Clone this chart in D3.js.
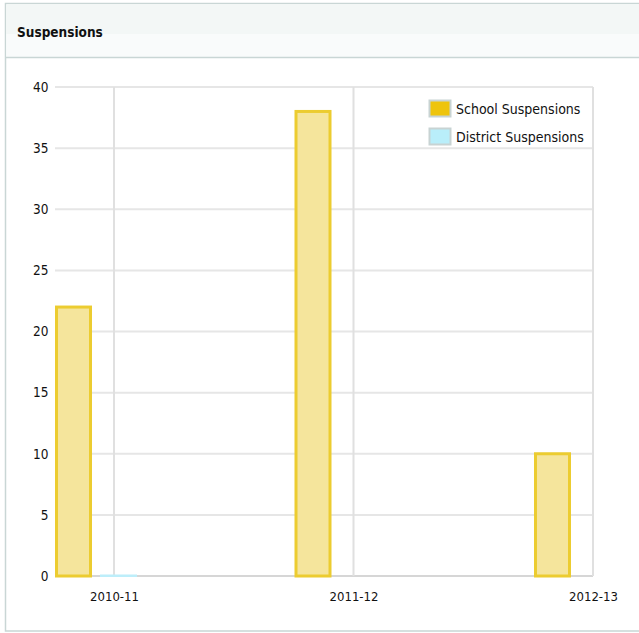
<!DOCTYPE html>
<html>
<head>
<meta charset="utf-8">
<script src="https://cdn.jsdelivr.net/npm/d3@7"></script>
<style>
  html, body { margin: 0; padding: 0; background: #ffffff; }
  svg { display: block; }
  text { font-family: "DejaVu Sans Condensed", "DejaVu Sans", sans-serif; fill: #111; }
</style>
</head>
<body>
<svg id="chart" width="639" height="633"></svg>
<script>
// School years on the x axis
const categories = ["2010-11", "2011-12", "2012-13"];
// Suspension counts per year (null = no data reported)
const schoolSuspensions = [22, 38, 10];
const districtSuspensions = [0, null, null];
// Y axis tick values
const yTicks = [0, 5, 10, 15, 20, 25, 30, 35, 40];
const seriesNames = ["School Suspensions", "District Suspensions"];
const seriesColors = ["#eec40c", "#b9eefa"];

const svg = d3.select("#chart");

// Panel frame and header
const panel = svg.append("g");
panel.append("rect").attr("x", 5.5).attr("y", 3.5).attr("width", 640).attr("height", 627.5)
  .attr("fill", "#ffffff").attr("stroke", "#c9d6d5").attr("stroke-width", 1.5);
panel.append("rect").attr("x", 6.25).attr("y", 4.25).attr("width", 640).attr("height", 30)
  .attr("fill", "#f3f7f6");
panel.append("rect").attr("x", 6.25).attr("y", 34).attr("width", 640).attr("height", 23)
  .attr("fill", "#f9fbfb");
panel.append("line").attr("x1", 5.5).attr("x2", 639).attr("y1", 57.5).attr("y2", 57.5)
  .attr("stroke", "#c9d6d5").attr("stroke-width", 1.5);
panel.append("text").attr("x", 17).attr("y", 37)
  .attr("font-size", 13.5).attr("font-weight", "bold").attr("fill", "#000")
  .text("Suspensions");

// Scales
const plotLeft = 55, plotRight = 593, plotTop = 87, plotBottom = 576;
const y = d3.scaleLinear().domain([0, 40]).range([plotBottom, plotTop]);
const x = d3.scalePoint().domain(categories).range([114, plotRight]).padding(0);

const grid = svg.append("g");
// Horizontal gridlines
grid.selectAll("line.h").data(yTicks).join("line")
  .attr("class", "h")
  .attr("x1", plotLeft).attr("x2", plotRight)
  .attr("y1", d => y(d)).attr("y2", d => y(d))
  .attr("stroke", d => d === 0 ? "#d6d6d6" : "#e6e6e6").attr("stroke-width", 2);
// Vertical gridlines at each category
grid.selectAll("line.v").data(categories).join("line")
  .attr("class", "v")
  .attr("x1", d => x(d)).attr("x2", d => x(d))
  .attr("y1", plotTop).attr("y2", plotBottom)
  .attr("stroke", "#e0e0e0").attr("stroke-width", 2);

// Y axis
const yAxis = d3.axisLeft(y).tickValues(yTicks).tickSize(0).tickPadding(0);
const gy = svg.append("g").attr("transform", `translate(48.5,0)`).call(yAxis);
gy.select(".domain").remove();
gy.selectAll("text").attr("font-size", 13.5).attr("fill", "#111")
  .attr("font-family", "'DejaVu Sans Condensed', 'DejaVu Sans', sans-serif");

// X axis
const xAxis = d3.axisBottom(x).tickSize(0).tickPadding(0);
const gx = svg.append("g").attr("transform", `translate(0,${plotBottom + 16})`).call(xAxis);
gx.select(".domain").remove();
gx.selectAll("text").attr("font-size", 13).attr("fill", "#111")
  .attr("font-family", "'DejaVu Sans Condensed', 'DejaVu Sans', sans-serif");

// Bars: school bars sit left of the category line, district bars just right of it
const barW = 34;
const schoolOffset = -57.5, districtOffset = -12.5;

svg.append("g").selectAll("rect").data(categories.map((c, i) => ({ c, v: schoolSuspensions[i] })).filter(d => d.v != null))
  .join("rect")
  .attr("x", d => x(d.c) + schoolOffset)
  .attr("y", d => y(d.v))
  .attr("width", barW)
  .attr("height", d => y(0) - y(d.v))
  .attr("fill", "#f5e59c")
  .attr("stroke", "#eccc30").attr("stroke-width", 3);

const districtData = categories.map((c, i) => ({ c, v: districtSuspensions[i] })).filter(d => d.v != null);
svg.append("g").selectAll("rect").data(districtData)
  .join("rect")
  .attr("x", d => x(d.c) + districtOffset - 1.5)
  .attr("y", d => y(d.v) - 1.5)
  .attr("width", barW + 3)
  .attr("height", d => y(0) - y(d.v) + 2.5)
  .attr("fill", "#bdeefa");

// Legend
const legend = svg.append("g").attr("transform", "translate(428,97)");
legend.append("rect").attr("x", 0).attr("y", 0).attr("width", 156).attr("height", 50)
  .attr("fill", "#ffffff");
const items = legend.selectAll("g.item").data(seriesNames).join("g")
  .attr("class", "item")
  .attr("transform", (d, i) => `translate(0,${2 + i * 28})`);
items.append("rect").attr("x", 1.5).attr("y", 1.5).attr("width", 21).attr("height", 16)
  .attr("fill", (d, i) => seriesColors[i]).attr("stroke", "#c8d3d3").attr("stroke-width", 2);
items.append("text").attr("x", 28).attr("y", 15)
  .attr("font-size", 14).attr("fill", "#111")
  .text(d => d);
</script>
</body>
</html>
